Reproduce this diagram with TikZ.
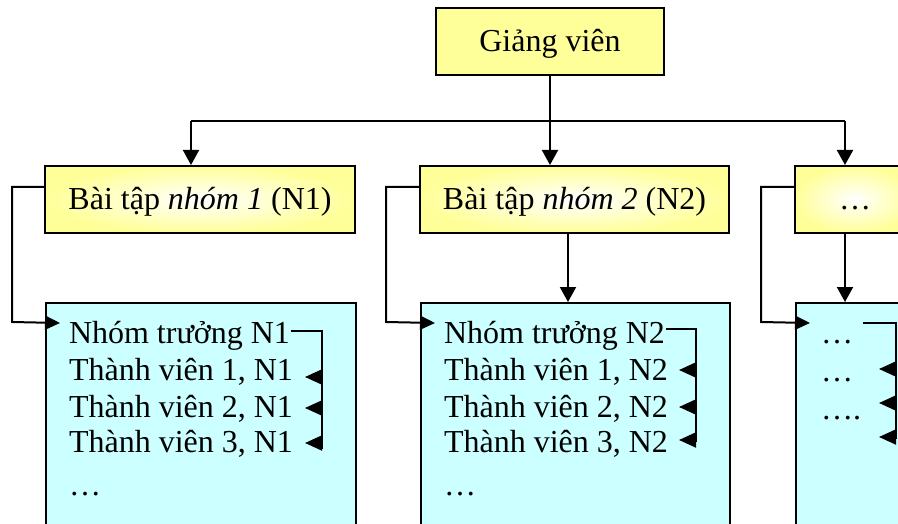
\documentclass[tikz,border=0pt]{standalone}
\usepackage{fontspec}
\setmainfont{Liberation Serif}
\usetikzlibrary{arrows.meta}
\definecolor{boxyellow}{HTML}{FFFF99}
\definecolor{boxcyan}{HTML}{CCFFFF}
\begin{document}
\begin{tikzpicture}[x=1pt,y=-1pt, line width=2pt,
  txt/.style={font=\fontsize{32}{37}\selectfont},
  ybox/.style={draw, fill=boxyellow, minimum height=67pt, inner sep=0pt, txt, text height=26pt, text depth=5pt},
  ybox2/.style={ybox, minimum width=310pt, inner color=white, outer color=boxyellow},
  lbox/.style={draw, fill=boxcyan, minimum width=310pt, minimum height=260pt, anchor=north west},
  item/.style={txt, anchor=base west, inner sep=0pt},
  arr/.style={-{Triangle[length=15pt,width=16pt]}},
  arrL/.style={-{Triangle[length=15pt,width=14pt]}},
  arrS/.style={-{Triangle[length=17pt,width=15pt]}},
]
\useasboundingbox (0,0) rectangle (898,524);
\clip (0,0) rectangle (898,524);

% top level
\node[ybox, minimum width=228pt] (gv) at (550,41.5) {Giảng viên};

% second level
\node[ybox2] (n1) at (200,199.5) {Bài tập \textit{nhóm 1} (N1)};
\node[ybox2, minimum width=309pt] (n2) at (574.5,199.5) {Bài tập \textit{nhóm 2} (N2)};
\node[ybox2, minimum width=120pt] (n3) at (855,199.5) {…};

% list boxes
\node[lbox] (L1) at (45,302) {};
\node[lbox, minimum width=309pt] (L2) at (420,302) {};
\node[lbox, minimum width=120pt] (L3) at (795,302) {};

% items column 1
\node[item] (l1a) at (68,343) {Nhóm trưởng N1};
\node[item] (l1b) at (68,380) {Thành viên 1, N1};
\node[item] (l1c) at (68,417) {Thành viên 2, N1};
\node[item] (l1d) at (68,452) {Thành viên 3, N1};
\node[item] (l1e) at (68,495) {…};

% items column 2
\node[item] (l2a) at (443,343) {Nhóm trưởng N2};
\node[item] (l2b) at (443,380) {Thành viên 1, N2};
\node[item] (l2c) at (443,417) {Thành viên 2, N2};
\node[item] (l2d) at (443,452) {Thành viên 3, N2};
\node[item] (l2e) at (443,495) {…};

% items column 3
\node[item] (l3a) at (820,343) {…};
\node[item] (l3b) at (820,381) {…};
\node[item] (l3c) at (820,419) {….};

% top bus
\coordinate (bL) at (191,121);
\coordinate (bR) at (845,121);
\draw (bL) -- (bR);
\draw[arr] (gv.south) -- (gv.south |- n2.north);
\draw[arr] (bL) -- (bL |- n1.north);
\draw[arr] (bR) -- (bR |- n3.north);

% down arrows to lists
\draw[arr] ([xshift=-6.5pt]n2.south) -- ([xshift=-6.5pt]n2.south |- L2.north);
\draw[arr] (bR |- n3.south) -- (bR |- L3.north);

% left connectors
\draw[arrL] ([yshift=-22pt]n1.north west) -| ++(-32,135) -- ([xshift=-8pt,yshift=20pt]l1a.base west);
\draw[arrL] ([yshift=-22pt]n2.north west) -| ++(-33,135) -- ([xshift=-8pt,yshift=20pt]l2a.base west);
\draw[arrL] ([yshift=-22pt]n3.north west) -| ++(-33,135) -- ([xshift=-10pt,yshift=20pt]l3a.base west);

% feedback column 1
\coordinate (v1) at (322,331);
\draw ([yshift=12pt]l1a.base east) -- (v1) -- (322,449);
\foreach \yy in {377,408,443} \draw[arrS] (v1 |- 0,\yy) -- ++(-17,0);

% feedback column 2
\coordinate (v2) at (696,329);
\draw ([yshift=14pt]l2a.base east) -- (v2) -- (696,442);
\foreach \yy in {370,407,440} \draw[arrS] (v2 |- 0,\yy) -- ++(-17,0);

% feedback column 3
\coordinate (h3) at (863,323);
\coordinate (v3) at (896,323);
\draw (h3) -- (v3) -- (896,439);
\foreach \yy in {369,403,437} \draw[arrS] (v3 |- 0,\yy) -- ++(-17,0);
\end{tikzpicture}
\end{document}
